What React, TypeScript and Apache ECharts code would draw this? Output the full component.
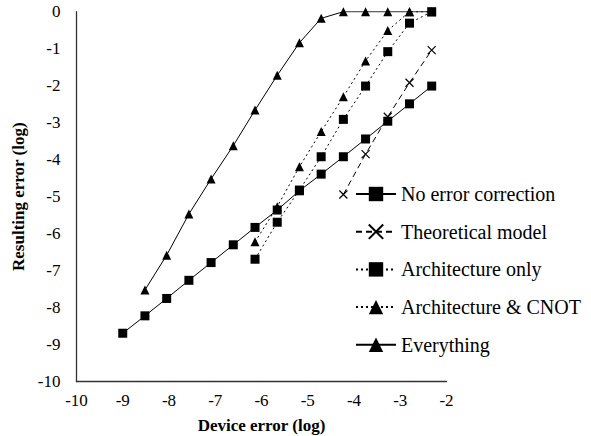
import React, { useEffect, useRef } from "react";
import * as echarts from "echarts";

// Device error (log10) sample positions
const deviceError = [-9, -8.52, -8.05, -7.57, -7.09, -6.61, -6.14, -5.66, -5.18, -4.71, -4.23, -3.75, -3.27, -2.8, -2.32];

// Resulting error (log10), aligned with deviceError; null = no point
const noErrorCorrection = [-8.69, -8.22, -7.75, -7.26, -6.78, -6.3, -5.83, -5.36, -4.84, -4.39, -3.92, -3.44, -2.96, -2.49, -2.01];
const theoreticalModel = [null, null, null, null, null, null, null, null, null, null, -4.94, -3.85, -2.84, -1.92, -1.04];
const architectureOnly = [null, null, null, null, null, null, -6.69, -5.69, -4.82, -3.92, -2.91, -2.01, -1.08, -0.31, 0];
const architectureCnot = [null, null, null, null, null, null, -6.22, -5.27, -4.19, -3.24, -2.3, -1.33, -0.51, 0, 0];
const everything = [null, -7.52, -6.58, -5.47, -4.52, -3.62, -2.66, -1.72, -0.84, -0.18, 0, 0, 0, 0, 0];

const seriesNames = ["No error correction", "Theoretical model", "Architecture only", "Architecture & CNOT", "Everything"];

const xTicks = { min: -10, max: -2, interval: 1 };
const yTicks = { min: -10, max: 0, interval: 1 };

const FONT = "'Liberation Serif', 'Times New Roman', serif";
const X_SYMBOL = "path://M0,0L10,10M10,0L0,10";

function pairs(ys: (number | null)[]) {
  const out: [number, number][] = [];
  ys.forEach((y, i) => {
    if (y !== null) out.push([deviceError[i], y]);
  });
  return out;
}

export default function App() {
  const ref = useRef<HTMLDivElement>(null);
  useEffect(() => {
    if (!ref.current) return;
    const chart = echarts.init(ref.current, undefined, { renderer: "svg" });
    const base = {
      type: "line" as const,
      color: "#000",
      showAllSymbol: true,
    };
    chart.setOption({
      animation: false,
      backgroundColor: "#fff",
      textStyle: { fontFamily: FONT },
      grid: { left: 76.5, right: 144.5, top: 11.7, bottom: 54.3, outerBoundsMode: "none" },
      xAxis: {
        type: "value",
        min: xTicks.min,
        max: xTicks.max,
        interval: xTicks.interval,
        name: "Device error (log)",
        nameLocation: "middle",
        nameGap: 35,
        nameTextStyle: { fontFamily: FONT, fontWeight: "bold", fontSize: 17, color: "#000" },
        axisLine: { onZero: false, lineStyle: { color: "#333", width: 1.3 } },
        axisTick: { show: false },
        splitLine: { show: false },
        axisLabel: { fontFamily: FONT, fontSize: 17, color: "#000", margin: 10 },
      },
      yAxis: {
        type: "value",
        min: yTicks.min,
        max: yTicks.max,
        interval: yTicks.interval,
        name: "Resulting error (log)",
        nameLocation: "middle",
        nameGap: 47,
        nameTextStyle: { fontFamily: FONT, fontWeight: "bold", fontSize: 17, color: "#000" },
        axisLine: { onZero: false, lineStyle: { color: "#333", width: 1.3 } },
        axisTick: { show: false },
        splitLine: { show: false },
        axisLabel: { fontFamily: FONT, fontSize: 17, color: "#000", margin: 16 },
      },
      legend: {
        orient: "vertical",
        left: 355,
        top: 183,
        padding: 0,
        itemWidth: 40,
        itemHeight: 18,
        itemGap: 15.7,
        data: seriesNames,
        textStyle: { fontFamily: FONT, fontSize: 20, color: "#000", lineHeight: 22 },
      },
      series: [
        {
          ...base,
          name: seriesNames[0],
          data: pairs(noErrorCorrection),
          symbol: "rect",
          symbolSize: 9,
          lineStyle: { color: "#000", width: 1, type: "solid" },
          itemStyle: { color: "#000" },
          z: 2,
        },
        {
          ...base,
          name: seriesNames[1],
          data: pairs(theoreticalModel),
          symbol: X_SYMBOL,
          symbolSize: 8,
          lineStyle: { color: "#000", width: 1, type: [6, 4] },
          itemStyle: { color: "transparent", borderColor: "#000", borderWidth: 1.2 },
          z: 2,
        },
        {
          ...base,
          name: seriesNames[2],
          data: pairs(architectureOnly),
          symbol: "rect",
          symbolSize: 9,
          lineStyle: { color: "#000", width: 1, type: [2, 3] },
          itemStyle: { color: "#000" },
          z: 4,
        },
        {
          ...base,
          name: seriesNames[3],
          data: pairs(architectureCnot),
          symbol: "triangle",
          symbolSize: 9,
          lineStyle: { color: "#000", width: 1, type: [2, 3] },
          itemStyle: { color: "#000" },
          z: 3,
        },
        {
          ...base,
          name: seriesNames[4],
          data: pairs(everything),
          symbol: "triangle",
          symbolSize: 9,
          lineStyle: { color: "#000", width: 1, type: "solid" },
          itemStyle: { color: "#000" },
          z: 2,
        },
      ],
    });
    return () => chart.dispose();
  }, []);
  return (
    <div
      ref={ref}
      style={{ position: "fixed", left: 0, top: 0, width: 591, height: 436, background: "#fff" }}
    />
  );
}
